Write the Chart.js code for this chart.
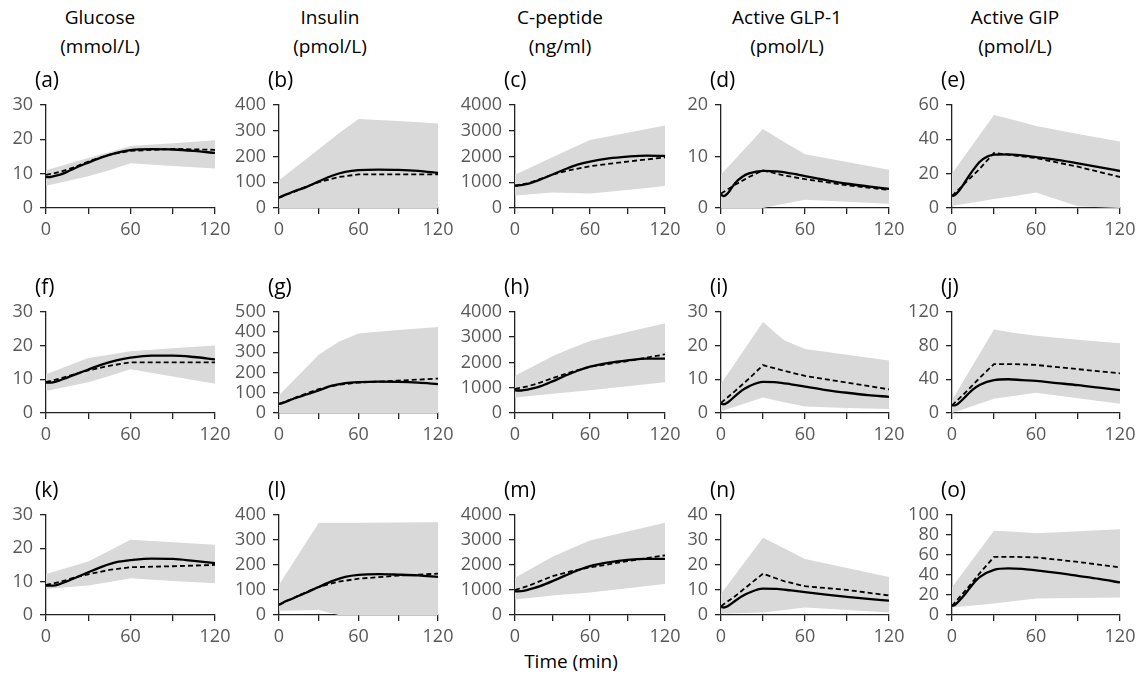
<!DOCTYPE html>
<html>
<head>
<meta charset="utf-8">
<script src="https://cdn.jsdelivr.net/npm/chart.js@4.4.1/dist/chart.umd.min.js"></script>
<style>
  html, body { margin:0; padding:0; background:#fff; }
  body { width:1143px; height:686px; position:relative; overflow:hidden; font-family:"Open Sans", sans-serif; }
  canvas { position:absolute; }
  .hdr { position:absolute; width:220px; text-align:center; font-size:19px; line-height:29px; color:#000; }
  .plab { position:absolute; font-size:21px; line-height:26px; color:#000; }
  .xt { position:absolute; font-size:19px; color:#000; width:200px; text-align:center; }
</style>
</head>
<body>
<script>
// ---------- DATA ----------
const columnTitles = [["Glucose","(mmol/L)"],["Insulin","(pmol/L)"],["C-peptide","(ng/ml)"],["Active GLP-1","(pmol/L)"],["Active GIP","(pmol/L)"]];
const panelLabels = ["(a)","(b)","(c)","(d)","(e)","(f)","(g)","(h)","(i)","(j)","(k)","(l)","(m)","(n)","(o)"];
const xTickLabels = [0, 60, 120];
const xAxisTitle = "Time (min)";

const yMax  = [30, 400, 4000, 20, 60,  30, 500, 4000, 30, 120,  30, 400, 4000, 40, 100];
const yStep = [10, 100, 1000, 10, 20,  10, 100, 1000, 10, 40,   10, 100, 1000, 10, 20];

const bandTimes  = [0, 30, 45, 60, 90, 120];
const modelTimes = [0, 2, 5, 10, 15, 20, 30, 40, 50, 60, 75, 90, 105, 120];
const obsTimes   = [0, 10, 20, 30, 45, 60, 90, 120];

// upper / lower limits of grey band
const a_upper = [11, 14.5, 16.2, 18, 18.8, 19.7];      const a_lower = [6.5, 9.2, 11, 13, 12.2, 11.5];
const b_upper = [108, 228, 289, 345, 337, 328];        const b_lower = [0, 0, 0, 0, 0, 0];
const c_upper = [1290, 1970, 2310, 2640, 2920, 3200];  const c_lower = [480, 600, 580, 560, 700, 850];
const d_upper = [6.5, 15.3, 12.8, 10.4, 8.9, 7.4];     const d_lower = [0, 0, 0.8, 1.6, 1.2, 0.8];
const e_upper = [20, 54, 51, 47.7, 43, 38.7];          const e_lower = [1.1, 5.3, 7, 9, 1, 0];
const f_upper = [11.5, 16.3, 17.3, 18.3, 19.2, 20];    const f_lower = [6.5, 9.1, 11, 13, 10.8, 8.7];
const g_upper = [88, 288, 352, 393, 410, 425];         const g_lower = [0, 0, 0, 0, 0, 0];
const h_upper = [1470, 2240, 2560, 2850, 3200, 3550];  const h_lower = [615, 760, 830, 900, 1060, 1220];
const i_upper = [8.7, 27, 21.6, 19, 17.3, 15.6];       const i_lower = [0.5, 4.6, 3.2, 1.9, 1.5, 1.2];
const j_upper = [15, 99, 95, 91.5, 87, 82.7];          const j_lower = [0, 17, 20.5, 24, 17.5, 11];
const k_upper = [12.3, 16, 19.2, 22.5, 21.8, 21];      const k_lower = [7.8, 8.8, 9.9, 11, 10.2, 9.5];
const l_upper = [121, 368, 368, 368, 369, 370];        const l_lower = [17, 20, 0, 0, 0, 0];
const m_upper = [1490, 2330, 2650, 2970, 3330, 3680];  const m_lower = [620, 780, 840, 900, 1070, 1235];
const n_upper = [8.5, 30.8, 26.6, 22.4, 18.8, 15.2];   const n_lower = [0.5, 1, 2, 3, 2, 1];
const o_upper = [27.6, 84, 83, 81.7, 83.6, 85.5];      const o_lower = [7.4, 11.6, 14, 16.4, 16.9, 17.4];

// model (solid line)
const a_model = [9.0, 9.0, 9.2, 9.7, 10.5, 11.5, 13.2, 14.8, 16.0, 16.8, 17.1, 17.0, 16.6, 16.0];
const b_model = [40, 45, 52, 62, 71, 80, 103, 125, 140, 147, 149, 148, 144, 136];
const c_model = [870, 870, 885, 930, 1010, 1100, 1300, 1500, 1680, 1800, 1920, 1990, 2030, 2020];
const d_model = [2.6, 2.3, 2.9, 4.8, 6.0, 6.7, 7.2, 7.1, 6.7, 6.2, 5.4, 4.7, 4.2, 3.7];
const e_model = [7, 7.5, 10, 16, 22, 27, 31, 31.2, 30.6, 29.6, 28, 26, 23.8, 21.5];
const f_model = [9.0, 9.0, 9.1, 9.7, 10.5, 11.3, 12.9, 14.4, 15.6, 16.4, 17.0, 17.0, 16.6, 15.9];
const g_model = [45, 48, 55, 68, 79, 90, 112, 135, 148, 153, 155, 154, 150, 143];
const h_model = [900, 890, 890, 920, 980, 1050, 1250, 1470, 1670, 1830, 1980, 2080, 2150, 2150];
const i_model = [2.8, 2.6, 3.2, 5.0, 6.7, 7.9, 9.2, 9.1, 8.5, 7.8, 6.8, 6.0, 5.3, 4.8];
const j_model = [9, 9, 12, 20, 28, 33.5, 39, 40, 39, 38, 35.5, 33, 30, 27];
const k_model = [8.8, 8.8, 8.8, 9.3, 10.1, 11.0, 12.8, 14.5, 15.8, 16.4, 16.9, 16.8, 16.2, 15.5];
const l_model = [40, 46, 55, 65, 77, 88, 112, 135, 152, 160, 163, 161, 158, 152];
const m_model = [950, 945, 950, 1000, 1070, 1150, 1350, 1570, 1780, 1950, 2100, 2200, 2240, 2240];
const n_model = [3.2, 3.0, 3.6, 5.6, 7.5, 8.9, 10.5, 10.4, 9.8, 9.1, 8.1, 7.2, 6.4, 5.7];
const o_model = [9, 10, 14, 22, 31, 38, 45, 46.5, 46, 44.5, 42, 39, 36, 32.5];

// observed (dashed line)
const a_obs = [9.6, 10.5, 11.8, 13.5, 15.5, 16.6, 17.2, 16.9];
const b_obs = [40, 60, 82, 100, 120, 130, 130, 130];
const c_obs = [870, 950, 1120, 1300, 1480, 1620, 1800, 1960];
const d_obs = [2.8, 4.5, 6.0, 7.3, 6.3, 5.6, 4.4, 3.5];
const e_obs = [7, 15, 23, 32, 30.5, 29, 24, 18];
const f_obs = [9.2, 10.2, 11.5, 12.6, 14, 15, 15, 15];
const g_obs = [45, 70, 95, 118, 140, 150, 160, 170];
const h_obs = [950, 1050, 1200, 1380, 1620, 1830, 2050, 2320];
const i_obs = [3, 6.5, 10.2, 14.2, 12.5, 11, 9, 7];
const j_obs = [9, 25, 42, 58, 58, 57, 52, 47];
const k_obs = [9, 9.9, 11.2, 12.2, 13.5, 14.3, 14.6, 15];
const l_obs = [42, 65, 90, 112, 133, 145, 157, 165];
const m_obs = [1000, 1150, 1350, 1550, 1750, 1900, 2150, 2380];
const n_obs = [3.5, 7.5, 12, 16.5, 13.5, 11.5, 10, 7.8];
const o_obs = [9, 25, 42, 58, 58, 57.5, 53, 47.5];

const uppers = [a_upper,b_upper,c_upper,d_upper,e_upper,f_upper,g_upper,h_upper,i_upper,j_upper,k_upper,l_upper,m_upper,n_upper,o_upper];
const lowers = [a_lower,b_lower,c_lower,d_lower,e_lower,f_lower,g_lower,h_lower,i_lower,j_lower,k_lower,l_lower,m_lower,n_lower,o_lower];
const models = [a_model,b_model,c_model,d_model,e_model,f_model,g_model,h_model,i_model,j_model,k_model,l_model,m_model,n_model,o_model];
const obss   = [a_obs,b_obs,c_obs,d_obs,e_obs,f_obs,g_obs,h_obs,i_obs,j_obs,k_obs,l_obs,m_obs,n_obs,o_obs];

// ---------- LAYOUT ----------
const colX0 = [46, 279, 515, 721, 952];
const colW  = [169, 159, 150, 168, 168];
const rowTop = [102, 309, 512];
const rowH   = [106, 104, 103];
const headerCenters = [100, 330, 560, 787, 1015];
const YW = 62, PT = 15, PR = 25, XH = 40;
const tickFont = { family: "'Open Sans', sans-serif", size: 18 };
const tickColor = '#595959';

function pts(times, vals) { return times.map((t, i) => ({ x: t, y: vals[i] })); }

// headers
columnTitles.forEach((t, c) => {
  const d = document.createElement('div');
  d.className = 'hdr';
  d.style.left = (headerCenters[c] - 110) + 'px';
  d.style.top = '3px';
  d.innerHTML = t[0] + '<br>' + t[1];
  document.body.appendChild(d);
});
const xt = document.createElement('div');
xt.className = 'xt'; xt.textContent = xAxisTitle;
xt.style.left = (571 - 100) + 'px'; xt.style.top = '648px';
document.body.appendChild(xt);

for (let p = 0; p < 15; p++) {
  const r = Math.floor(p / 5), c = p % 5;
  const cv = document.createElement('canvas');
  const W = YW + colW[c] + PR, H = PT + rowH[r] + XH;
  cv.width = W; cv.height = H;
  cv.style.left = (colX0[c] - YW) + 'px';
  cv.style.top = (rowTop[r] - PT) + 'px';
  cv.style.width = W + 'px'; cv.style.height = H + 'px';
  document.body.appendChild(cv);

  const lab = document.createElement('div');
  lab.className = 'plab';
  lab.textContent = panelLabels[p];
  lab.style.left = (colX0[c] - 11) + 'px';
  lab.style.top = (rowTop[r] - 36) + 'px';
  document.body.appendChild(lab);

  const axisCommon = {
    grid: { display: true, drawOnChartArea: false, drawTicks: true, tickLength: 6, color: '#222', lineWidth: 1.3 },
    border: { display: true, color: '#222', width: 1.3 },
  };

  new Chart(cv, {
    type: 'line',
    data: {
      datasets: [
        { data: pts(modelTimes, models[p]), borderColor: '#000', borderWidth: 2.3, pointRadius: 0, fill: false, cubicInterpolationMode: 'monotone' },
        { data: pts(obsTimes, obss[p]), borderColor: '#000', borderWidth: 1.8, borderDash: [5, 3], pointRadius: 0, fill: false, tension: 0 },
        { data: pts(bandTimes, uppers[p]), borderWidth: 0, borderColor: 'rgba(0,0,0,0)', backgroundColor: '#d9d9d9', pointRadius: 0, fill: '+1', tension: 0 },
        { data: pts(bandTimes, lowers[p]), borderWidth: 0, borderColor: 'rgba(0,0,0,0)', pointRadius: 0, fill: false, tension: 0 },
      ]
    },
    options: {
      responsive: false, animation: false, devicePixelRatio: 1,
      layout: { padding: { left: 0, top: PT, right: PR, bottom: 0 } },
      plugins: { legend: { display: false }, tooltip: { enabled: false } },
      scales: {
        x: Object.assign({
          type: 'linear', min: 0, max: 120,
          ticks: { stepSize: 30, autoSkip: false, maxRotation: 0, color: tickColor, font: tickFont, padding: 5,
                   callback: v => (xTickLabels.includes(v) ? String(v) : '') },
          afterFit: s => { s.height = XH; }
        }, axisCommon),
        y: Object.assign({
          type: 'linear', min: 0, max: yMax[p],
          ticks: { stepSize: yStep[p], autoSkip: false, color: tickColor, font: tickFont, padding: 7,
                   callback: v => String(v) },
          afterFit: s => { s.width = YW; }
        }, axisCommon),
      }
    }
  });
}
</script>
</body>
</html>
